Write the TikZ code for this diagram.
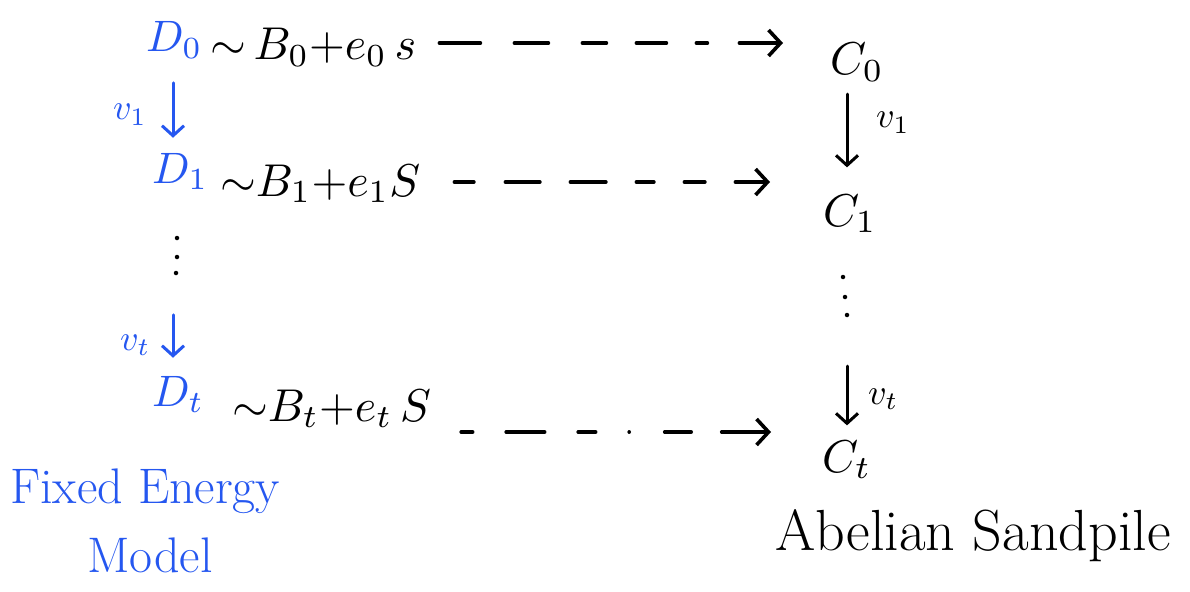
\documentclass[tikz,border=0pt]{standalone}
\usetikzlibrary{arrows.meta}
\definecolor{blueink}{RGB}{37,87,240}
\newcommand{\mysc}[2]{\scalebox{#1}{#2}}
\begin{document}
\begin{tikzpicture}[x=1pt,y=-1pt,
  big/.style={inner sep=0pt},
  lab/.style={inner sep=0pt},
  word/.style={inner sep=0pt,font=\fontsize{50}{60}\selectfont},
  ink/.style={text=blueink},
  harrow/.style={draw=black,line width=3.6pt,line cap=round,-{Straight Barb[length=12pt,width=26pt]}},
  varrow/.style={line width=3pt,line cap=round,-{Straight Barb[length=10pt,width=22pt]}},
  dot/.style={circle,fill=black,inner sep=0pt,minimum size=4.5pt}
]
\useasboundingbox (0,0) rectangle (1190,591);
\fill[white] (0,0) rectangle (1190,591);
% left column
\node[big,ink,anchor=base west] (D0) at (146,52) {\mysc{4.4}{$D_0$}};
\node[big,ink,anchor=base west] (D1) at (152,183) {\mysc{4.4}{$D_1$}};
\node[big,ink,anchor=base west] (Dt) at (152,406) {\mysc{4.4}{$D_t$}};
\node[big,anchor=base west] (e0) at (210,60) {\mysc{4.6}{${\sim}\,B_0{+}e_0\,s$}};
\node[big,anchor=base west] (e1) at (220,196) {\mysc{4.6}{${\sim}B_1{+}e_1S$}};
\node[big,anchor=base west] (et) at (232,421) {\mysc{4.6}{${\sim}B_t{+}e_t\,S$}};
% right column
\node[big,anchor=base west] (C0) at (830,75) {\mysc{4.6}{$C_0$}};
\node[big,anchor=base west] (C1) at (823,226) {\mysc{4.6}{$C_1$}};
\node[big,anchor=base west] (Ct) at (822,472) {\mysc{4.6}{$C_t$}};
% labels
\node[lab,ink,anchor=base west] (lv1) at (113,120) {\mysc{3.6}{$v_1$}};
\node[lab,ink,anchor=base west] (lvt) at (120,350) {\mysc{3.6}{$v_t$}};
\node[lab,anchor=base west] (rv1) at (876,128) {\mysc{3.6}{$v_1$}};
\node[lab,anchor=base west] (rvt) at (868,404) {\mysc{3.6}{$v_t$}};
\node[word,ink,anchor=base west] (fe) at (10,503) {Fixed Energy};
\node[word,ink,anchor=base] (mo) at (150,572) {Model};
\node[word,anchor=base west,font=\fontsize{58}{66}\selectfont] (as) at (775,550) {Abelian Sandpile};
% helper coordinates
\coordinate (r0) at (0,43);
\coordinate (r1) at (0,182);
\coordinate (rt) at (0,432);
\coordinate (xl) at (173,0);
\coordinate (xr) at (847,0);
% dashed arrows
\draw[harrow,shorten <=23pt,shorten >=47pt,dash pattern=on 41pt off 34pt on 34pt off 34pt on 24pt off 30pt on 30pt off 30pt on 11pt off 32pt on 80pt]
  (e0.east |- r0) -- (C0.west |- r0);
\draw[harrow,shorten <=34pt,shorten >=53pt,dash pattern=on 19.5pt off 31.5pt on 34.5pt off 30.5pt on 35.5pt off 30.5pt on 17.5pt off 30.5pt on 20.5pt off 30.5pt on 80pt]
  (e1.east |- r1) -- (C1.west |- r1);
\draw[harrow,shorten <=30pt,shorten >=51pt,dash pattern=on 11.5pt off 33.5pt on 38.5pt off 33.5pt on 17.5pt off 33.5pt on 0.01pt off 35.5pt on 26.5pt off 30.5pt on 80pt]
  (et.east |- rt) -- (Ct.west |- rt);
% vertical arrows
\draw[varrow,draw=blueink,shorten <=24pt,shorten >=15pt] (D0.south -| xl) -- (D1.north -| xl);
\draw[varrow,draw=blueink,shorten <=125pt,shorten >=18pt] (D1.south -| xl) -- (Dt.north -| xl);
\draw[varrow,shorten <=12pt,shorten >=27pt] (C0.south -| xr) -- (C1.north -| xr);
\draw[varrow,shorten <=133pt,shorten >=15pt] (C1.south -| xr) -- (Ct.north -| xr);
% dots
\node[dot] (ld1) at (177,238) {};
\node[dot] (ld2) at (177,257) {};
\node[dot] (ld3) at (176,273) {};
\node[dot] (rd1) at (843,277) {};
\node[dot] (rd2) at (845,297) {};
\node[dot] (rd3) at (847,315) {};
\end{tikzpicture}
\end{document}
